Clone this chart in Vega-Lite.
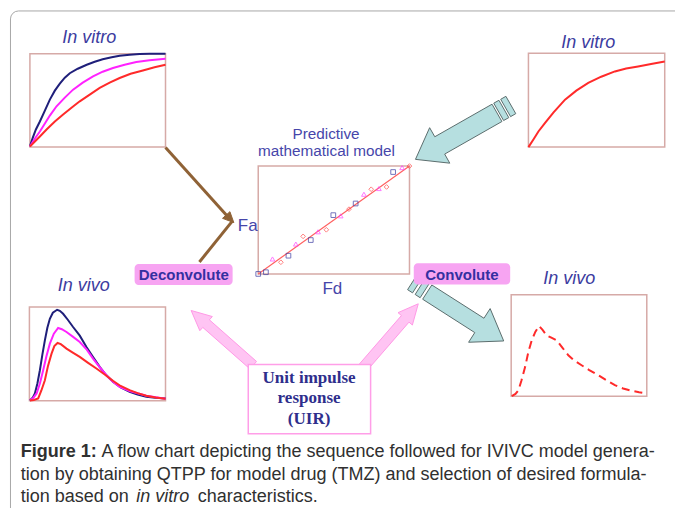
{
  "$schema": "https://vega.github.io/schema/vega-lite/v6.json",
  "width": 677,
  "height": 510,
  "autosize": {"type": "fit", "contains": "padding"},
  "padding": 0,
  "background": "white",
  "config": {"view": {"stroke": null}},
  "encoding": {
    "x": {"field": "x", "type": "quantitative", "scale": {"domain": [0, 677], "nice": false, "zero": false}, "axis": null},
    "y": {"field": "y", "type": "quantitative", "scale": {"domain": [0, 510], "nice": false, "zero": false, "reverse": true}, "axis": null}
  },
  "resolve": {"scale": {"color": "independent", "shape": "independent"}},
  "datasets": {
    "border": [
      {"i": 0, "x": 10.5, "y": 510}, {"i": 1, "x": 10.5, "y": 19}, {"i": 2, "x": 11.1, "y": 16},
      {"i": 3, "x": 12.8, "y": 13.4}, {"i": 4, "x": 15.4, "y": 11.6}, {"i": 5, "x": 18.5, "y": 11}, {"i": 6, "x": 677, "y": 11}
    ],
    "frames": [
      {"plot": "in vitro (reference)", "x": 30, "x2": 166, "y": 54, "y2": 147.5},
      {"plot": "in vitro (test)", "x": 530, "x2": 666.7, "y": 53.5, "y2": 147.7},
      {"plot": "correlation", "x": 259, "x2": 410.7, "y": 166.7, "y2": 275},
      {"plot": "in vivo (reference)", "x": 29.5, "x2": 166, "y": 308.3, "y2": 402.3},
      {"plot": "in vivo (predicted)", "x": 512.7, "x2": 648.7, "y": 296, "y2": 397.7}
    ],
    "curves": [
      {"panel": "in vitro", "series": "fast", "x": 30, "y": 147}, {"panel": "in vitro", "series": "fast", "x": 33, "y": 138},
      {"panel": "in vitro", "series": "fast", "x": 36, "y": 130}, {"panel": "in vitro", "series": "fast", "x": 40, "y": 122},
      {"panel": "in vitro", "series": "fast", "x": 45, "y": 111}, {"panel": "in vitro", "series": "fast", "x": 50, "y": 100},
      {"panel": "in vitro", "series": "fast", "x": 55, "y": 91}, {"panel": "in vitro", "series": "fast", "x": 60, "y": 84},
      {"panel": "in vitro", "series": "fast", "x": 65, "y": 78}, {"panel": "in vitro", "series": "fast", "x": 70, "y": 73.5},
      {"panel": "in vitro", "series": "fast", "x": 78, "y": 69}, {"panel": "in vitro", "series": "fast", "x": 87, "y": 65},
      {"panel": "in vitro", "series": "fast", "x": 95, "y": 62}, {"panel": "in vitro", "series": "fast", "x": 103, "y": 59.5},
      {"panel": "in vitro", "series": "fast", "x": 112, "y": 57.5}, {"panel": "in vitro", "series": "fast", "x": 120, "y": 56},
      {"panel": "in vitro", "series": "fast", "x": 130, "y": 55}, {"panel": "in vitro", "series": "fast", "x": 140, "y": 54.3},
      {"panel": "in vitro", "series": "fast", "x": 150, "y": 54}, {"panel": "in vitro", "series": "fast", "x": 166, "y": 54},
      {"panel": "in vitro", "series": "medium", "x": 30, "y": 147}, {"panel": "in vitro", "series": "medium", "x": 35, "y": 139},
      {"panel": "in vitro", "series": "medium", "x": 40, "y": 132}, {"panel": "in vitro", "series": "medium", "x": 43.3, "y": 126.7},
      {"panel": "in vitro", "series": "medium", "x": 50, "y": 116}, {"panel": "in vitro", "series": "medium", "x": 56.7, "y": 106.7},
      {"panel": "in vitro", "series": "medium", "x": 65, "y": 98}, {"panel": "in vitro", "series": "medium", "x": 73.3, "y": 90},
      {"panel": "in vitro", "series": "medium", "x": 83, "y": 83}, {"panel": "in vitro", "series": "medium", "x": 93.3, "y": 76.7},
      {"panel": "in vitro", "series": "medium", "x": 103, "y": 72}, {"panel": "in vitro", "series": "medium", "x": 113.3, "y": 68.3},
      {"panel": "in vitro", "series": "medium", "x": 125, "y": 65}, {"panel": "in vitro", "series": "medium", "x": 136.7, "y": 62.3},
      {"panel": "in vitro", "series": "medium", "x": 150, "y": 60.5}, {"panel": "in vitro", "series": "medium", "x": 166, "y": 59},
      {"panel": "in vitro", "series": "slow", "x": 30, "y": 147}, {"panel": "in vitro", "series": "slow", "x": 35, "y": 142},
      {"panel": "in vitro", "series": "slow", "x": 40, "y": 137}, {"panel": "in vitro", "series": "slow", "x": 46.7, "y": 130},
      {"panel": "in vitro", "series": "slow", "x": 55, "y": 122}, {"panel": "in vitro", "series": "slow", "x": 63.3, "y": 115},
      {"panel": "in vitro", "series": "slow", "x": 72, "y": 108}, {"panel": "in vitro", "series": "slow", "x": 80, "y": 101.7},
      {"panel": "in vitro", "series": "slow", "x": 90, "y": 95}, {"panel": "in vitro", "series": "slow", "x": 100, "y": 88.3},
      {"panel": "in vitro", "series": "slow", "x": 110, "y": 83}, {"panel": "in vitro", "series": "slow", "x": 120, "y": 78.3},
      {"panel": "in vitro", "series": "slow", "x": 131, "y": 74}, {"panel": "in vitro", "series": "slow", "x": 143.3, "y": 70.7},
      {"panel": "in vitro", "series": "slow", "x": 155, "y": 67.5}, {"panel": "in vitro", "series": "slow", "x": 166, "y": 65},
      {"panel": "in vivo", "series": "fast", "x": 30, "y": 402}, {"panel": "in vivo", "series": "fast", "x": 33, "y": 399},
      {"panel": "in vivo", "series": "fast", "x": 35, "y": 395}, {"panel": "in vivo", "series": "fast", "x": 37.5, "y": 385},
      {"panel": "in vivo", "series": "fast", "x": 40, "y": 371.7}, {"panel": "in vivo", "series": "fast", "x": 42.5, "y": 356},
      {"panel": "in vivo", "series": "fast", "x": 45, "y": 341.7}, {"panel": "in vivo", "series": "fast", "x": 47.5, "y": 329},
      {"panel": "in vivo", "series": "fast", "x": 50, "y": 320}, {"panel": "in vivo", "series": "fast", "x": 53, "y": 314},
      {"panel": "in vivo", "series": "fast", "x": 57.3, "y": 311}, {"panel": "in vivo", "series": "fast", "x": 60, "y": 312},
      {"panel": "in vivo", "series": "fast", "x": 63.3, "y": 315}, {"panel": "in vivo", "series": "fast", "x": 68, "y": 321},
      {"panel": "in vivo", "series": "fast", "x": 73.3, "y": 328.3}, {"panel": "in vivo", "series": "fast", "x": 80, "y": 337},
      {"panel": "in vivo", "series": "fast", "x": 86.7, "y": 348.3}, {"panel": "in vivo", "series": "fast", "x": 93, "y": 358},
      {"panel": "in vivo", "series": "fast", "x": 100, "y": 368.3}, {"panel": "in vivo", "series": "fast", "x": 106, "y": 376},
      {"panel": "in vivo", "series": "fast", "x": 113.3, "y": 383.3}, {"panel": "in vivo", "series": "fast", "x": 121, "y": 389},
      {"panel": "in vivo", "series": "fast", "x": 130, "y": 393.3}, {"panel": "in vivo", "series": "fast", "x": 138, "y": 396},
      {"panel": "in vivo", "series": "fast", "x": 146.7, "y": 398.3}, {"panel": "in vivo", "series": "fast", "x": 156, "y": 399.3},
      {"panel": "in vivo", "series": "fast", "x": 166, "y": 400},
      {"panel": "in vivo", "series": "medium", "x": 30, "y": 402}, {"panel": "in vivo", "series": "medium", "x": 33, "y": 400},
      {"panel": "in vivo", "series": "medium", "x": 36.7, "y": 395}, {"panel": "in vivo", "series": "medium", "x": 40, "y": 385},
      {"panel": "in vivo", "series": "medium", "x": 43.3, "y": 371.7}, {"panel": "in vivo", "series": "medium", "x": 46.5, "y": 358},
      {"panel": "in vivo", "series": "medium", "x": 50, "y": 345}, {"panel": "in vivo", "series": "medium", "x": 54, "y": 335},
      {"panel": "in vivo", "series": "medium", "x": 58.3, "y": 329.3}, {"panel": "in vivo", "series": "medium", "x": 62, "y": 330.5},
      {"panel": "in vivo", "series": "medium", "x": 66.7, "y": 333.3}, {"panel": "in vivo", "series": "medium", "x": 73, "y": 338},
      {"panel": "in vivo", "series": "medium", "x": 80, "y": 343.3}, {"panel": "in vivo", "series": "medium", "x": 87, "y": 351},
      {"panel": "in vivo", "series": "medium", "x": 93.3, "y": 360}, {"panel": "in vivo", "series": "medium", "x": 100, "y": 368.5},
      {"panel": "in vivo", "series": "medium", "x": 106.7, "y": 376.7}, {"panel": "in vivo", "series": "medium", "x": 113, "y": 383},
      {"panel": "in vivo", "series": "medium", "x": 120, "y": 388.3}, {"panel": "in vivo", "series": "medium", "x": 130, "y": 392.5},
      {"panel": "in vivo", "series": "medium", "x": 146.7, "y": 397.3}, {"panel": "in vivo", "series": "medium", "x": 166, "y": 400.3},
      {"panel": "in vivo", "series": "slow", "x": 30, "y": 402}, {"panel": "in vivo", "series": "slow", "x": 34, "y": 401.5},
      {"panel": "in vivo", "series": "slow", "x": 38.3, "y": 400}, {"panel": "in vivo", "series": "slow", "x": 41.5, "y": 392},
      {"panel": "in vivo", "series": "slow", "x": 45, "y": 381.7}, {"panel": "in vivo", "series": "slow", "x": 48, "y": 368},
      {"panel": "in vivo", "series": "slow", "x": 51.7, "y": 355}, {"panel": "in vivo", "series": "slow", "x": 54.5, "y": 347.5},
      {"panel": "in vivo", "series": "slow", "x": 57.7, "y": 344.3}, {"panel": "in vivo", "series": "slow", "x": 61, "y": 345.5},
      {"panel": "in vivo", "series": "slow", "x": 66.7, "y": 350}, {"panel": "in vivo", "series": "slow", "x": 73, "y": 354},
      {"panel": "in vivo", "series": "slow", "x": 80, "y": 358.3}, {"panel": "in vivo", "series": "slow", "x": 88, "y": 364},
      {"panel": "in vivo", "series": "slow", "x": 96.7, "y": 370}, {"panel": "in vivo", "series": "slow", "x": 105, "y": 376},
      {"panel": "in vivo", "series": "slow", "x": 113.3, "y": 382.3}, {"panel": "in vivo", "series": "slow", "x": 121, "y": 387.5},
      {"panel": "in vivo", "series": "slow", "x": 130, "y": 391.7}, {"panel": "in vivo", "series": "slow", "x": 138, "y": 394.7},
      {"panel": "in vivo", "series": "slow", "x": 146.7, "y": 397.3}, {"panel": "in vivo", "series": "slow", "x": 156, "y": 399},
      {"panel": "in vivo", "series": "slow", "x": 166, "y": 400.3},
      {"panel": "in vitro test", "series": "test", "x": 530, "y": 147.7}, {"panel": "in vitro test", "series": "test", "x": 535, "y": 140},
      {"panel": "in vitro test", "series": "test", "x": 540, "y": 132}, {"panel": "in vitro test", "series": "test", "x": 546.7, "y": 123.3},
      {"panel": "in vitro test", "series": "test", "x": 555, "y": 113}, {"panel": "in vitro test", "series": "test", "x": 566.7, "y": 100},
      {"panel": "in vitro test", "series": "test", "x": 578, "y": 91}, {"panel": "in vitro test", "series": "test", "x": 590, "y": 83.3},
      {"panel": "in vitro test", "series": "test", "x": 603, "y": 77}, {"panel": "in vitro test", "series": "test", "x": 616.7, "y": 71.7},
      {"panel": "in vitro test", "series": "test", "x": 628, "y": 68.8}, {"panel": "in vitro test", "series": "test", "x": 640, "y": 66.7},
      {"panel": "in vitro test", "series": "test", "x": 653, "y": 64.2}, {"panel": "in vitro test", "series": "test", "x": 666.7, "y": 61.7}
    ],
    "predicted": [
      {"x": 513.3, "y": 397.7}, {"x": 517, "y": 395.5}, {"x": 520, "y": 391.7}, {"x": 523, "y": 382}, {"x": 526.7, "y": 368.3},
      {"x": 530, "y": 353}, {"x": 533.3, "y": 341.7}, {"x": 537, "y": 333}, {"x": 540.7, "y": 327.3}, {"x": 544, "y": 331},
      {"x": 548.3, "y": 336.7}, {"x": 553, "y": 339}, {"x": 558.3, "y": 341.7}, {"x": 564, "y": 349}, {"x": 570, "y": 356.7},
      {"x": 576, "y": 362}, {"x": 583.3, "y": 366.7}, {"x": 591, "y": 371.5}, {"x": 600, "y": 376.7}, {"x": 608, "y": 381.7},
      {"x": 616.7, "y": 386.7}, {"x": 625, "y": 390}, {"x": 633.3, "y": 392.3}, {"x": 641, "y": 393.8}, {"x": 648.7, "y": 395}
    ],
    "fit": [{"x": 259, "y": 275}, {"x": 410.7, "y": 166.7}],
    "corr": [
      {"formulation": "A", "x": 259, "y": 275}, {"formulation": "A", "x": 266.7, "y": 273.3}, {"formulation": "A", "x": 289.3, "y": 256.7},
      {"formulation": "A", "x": 311.7, "y": 241}, {"formulation": "A", "x": 334.3, "y": 216}, {"formulation": "A", "x": 356.7, "y": 204.3},
      {"formulation": "A", "x": 394.3, "y": 172.7},
      {"formulation": "B", "x": 273.3, "y": 260}, {"formulation": "B", "x": 296.7, "y": 245}, {"formulation": "B", "x": 319, "y": 232.7},
      {"formulation": "B", "x": 341.7, "y": 216.7}, {"formulation": "B", "x": 365, "y": 195}, {"formulation": "B", "x": 380, "y": 189.3},
      {"formulation": "B", "x": 403.3, "y": 168.3},
      {"formulation": "C", "x": 281.7, "y": 263.3}, {"formulation": "C", "x": 304, "y": 237.3}, {"formulation": "C", "x": 327.3, "y": 230.7},
      {"formulation": "C", "x": 350, "y": 210}, {"formulation": "C", "x": 372.3, "y": 190}, {"formulation": "C", "x": 387.7, "y": 187.7},
      {"formulation": "C", "x": 410.7, "y": 166.7}
    ],
    "links": [
      {"link": "in vitro to Fa", "i": 0, "x": 166, "y": 148}, {"link": "in vitro to Fa", "i": 1, "x": 229, "y": 218},
      {"link": "in vivo to Fa", "i": 0, "x": 200, "y": 263}, {"link": "in vivo to Fa", "i": 1, "x": 233, "y": 222}
    ],
    "heads": [
      {"arrow": "to Fa", "i": 0, "x": 234.5, "y": 223.5}, {"arrow": "to Fa", "i": 1, "x": 223.2, "y": 219.2},
      {"arrow": "to Fa", "i": 2, "x": 230.6, "y": 212.5}, {"arrow": "to Fa", "i": 3, "x": 234.5, "y": 223.5}
    ],
    "teal": [
      {"arrow": "t1", "i": 0, "x": 416.7, "y": 160}, {"arrow": "t1", "i": 1, "x": 430.9, "y": 128.2},
      {"arrow": "t1", "i": 2, "x": 436.1, "y": 137.3}, {"arrow": "t1", "i": 3, "x": 493.5, "y": 104.6},
      {"arrow": "t1", "i": 4, "x": 503.4, "y": 122}, {"arrow": "t1", "i": 5, "x": 446, "y": 154.7},
      {"arrow": "t1", "i": 6, "x": 451.1, "y": 163.8}, {"arrow": "t1", "i": 7, "x": 416.7, "y": 160},
      {"arrow": "t1a", "i": 0, "x": 495.2, "y": 103.6}, {"arrow": "t1a", "i": 1, "x": 500.4, "y": 100.7},
      {"arrow": "t1a", "i": 2, "x": 510.3, "y": 118.1}, {"arrow": "t1a", "i": 3, "x": 505.1, "y": 121},
      {"arrow": "t1a", "i": 4, "x": 495.2, "y": 103.6},
      {"arrow": "t1b", "i": 0, "x": 502.2, "y": 99.7}, {"arrow": "t1b", "i": 1, "x": 507.4, "y": 96.7},
      {"arrow": "t1b", "i": 2, "x": 517.3, "y": 114.1}, {"arrow": "t1b", "i": 3, "x": 512.1, "y": 117.1},
      {"arrow": "t1b", "i": 4, "x": 502.2, "y": 99.7},
      {"arrow": "t2", "i": 0, "x": 505.2, "y": 342.3}, {"arrow": "t2", "i": 1, "x": 491.6, "y": 309.8},
      {"arrow": "t2", "i": 2, "x": 485.4, "y": 319.5}, {"arrow": "t2", "i": 3, "x": 433.1, "y": 286.1},
      {"arrow": "t2", "i": 4, "x": 423.9, "y": 300.4}, {"arrow": "t2", "i": 5, "x": 476.2, "y": 333.9},
      {"arrow": "t2", "i": 6, "x": 470, "y": 343.6}, {"arrow": "t2", "i": 7, "x": 505.2, "y": 342.3},
      {"arrow": "t2a", "i": 0, "x": 430.6, "y": 284.5}, {"arrow": "t2a", "i": 1, "x": 425.5, "y": 281.2},
      {"arrow": "t2a", "i": 2, "x": 416.4, "y": 295.6}, {"arrow": "t2a", "i": 3, "x": 421.4, "y": 298.9},
      {"arrow": "t2a", "i": 4, "x": 430.6, "y": 284.5},
      {"arrow": "t2b", "i": 0, "x": 423, "y": 279.6}, {"arrow": "t2b", "i": 1, "x": 418, "y": 276.4},
      {"arrow": "t2b", "i": 2, "x": 408.8, "y": 290.8}, {"arrow": "t2b", "i": 3, "x": 413.8, "y": 294},
      {"arrow": "t2b", "i": 4, "x": 423, "y": 279.6}
    ],
    "pink": [
      {"arrow": "p1", "i": 0, "x": 191.7, "y": 311.7}, {"arrow": "p1", "i": 1, "x": 213, "y": 317.8},
      {"arrow": "p1", "i": 2, "x": 210, "y": 321.1}, {"arrow": "p1", "i": 3, "x": 257.3, "y": 362.9},
      {"arrow": "p1", "i": 4, "x": 250.7, "y": 370.4}, {"arrow": "p1", "i": 5, "x": 203.4, "y": 328.7},
      {"arrow": "p1", "i": 6, "x": 200.4, "y": 332}, {"arrow": "p1", "i": 7, "x": 191.7, "y": 311.7},
      {"arrow": "p2", "i": 0, "x": 419.5, "y": 305}, {"arrow": "p2", "i": 1, "x": 413.6, "y": 326.3},
      {"arrow": "p2", "i": 2, "x": 410.2, "y": 323.4}, {"arrow": "p2", "i": 3, "x": 368.3, "y": 371.8},
      {"arrow": "p2", "i": 4, "x": 360.7, "y": 365.2}, {"arrow": "p2", "i": 5, "x": 402.6, "y": 316.8},
      {"arrow": "p2", "i": 6, "x": 399.2, "y": 313.9}, {"arrow": "p2", "i": 7, "x": 419.5, "y": 305}
    ],
    "steps": [
      {"step": "Deconvolute", "x": 135, "x2": 233.3, "y": 265, "y2": 286, "tx": 184.3, "ty": 280.7},
      {"step": "Convolute", "x": 415, "x2": 511.7, "y": 264.3, "y2": 285.7, "tx": 463.3, "ty": 280.7}
    ],
    "uirbox": [{"x": 249, "x2": 371.7, "y": 366, "y2": 435.5}],
    "uirtext": [
      {"text": "Unit impulse", "x": 310, "y": 384.5},
      {"text": "response", "x": 310, "y": 405},
      {"text": "(UIR)", "x": 310, "y": 425.5}
    ],
    "titles": [
      {"text": "In vitro", "x": 89.5, "y": 42.7},
      {"text": "In vitro", "x": 590, "y": 48.3},
      {"text": "In vivo", "x": 84, "y": 291.7},
      {"text": "In vivo", "x": 571, "y": 285}
    ],
    "model": [
      {"text": "Predictive", "x": 327, "y": 139.3, "size": "title"},
      {"text": "mathematical  model", "x": 327.5, "y": 157, "size": "title"},
      {"text": "Fa", "x": 248.5, "y": 232, "size": "axis"},
      {"text": "Fd", "x": 333.3, "y": 295, "size": "axis"}
    ],
    "caption": [
      {"part": "bold", "text": "Figure 1:", "x": 20.7, "y": 458.3},
      {"part": "regular", "text": "A flow chart depicting the sequence followed for IVIVC model genera-", "x": 101.7, "y": 458.3},
      {"part": "regular", "text": "tion by obtaining QTPP for model drug (TMZ) and selection of desired formula-", "x": 20.7, "y": 481.5},
      {"part": "regular", "text": "tion based on", "x": 20.7, "y": 504.3},
      {"part": "italic", "text": "in vitro", "x": 136.7, "y": 504.3},
      {"part": "regular", "text": "characteristics.", "x": 198.3, "y": 504.3}
    ]
  },
  "layer": [
    {
      "data": {"name": "border"},
      "mark": {"type": "line", "stroke": "#a8a8a8", "strokeWidth": 1},
      "encoding": {"order": {"field": "i", "type": "quantitative"}}
    },
    {
      "data": {"name": "frames"},
      "mark": {"type": "rect", "fill": "white", "stroke": "#d6aaa7", "strokeWidth": 1.5},
      "encoding": {"x2": {"field": "x2"}, "y2": {"field": "y2"}}
    },
    {
      "data": {"name": "curves"},
      "mark": {"type": "line", "strokeWidth": 2},
      "encoding": {
        "detail": {"field": "panel"},
        "color": {"field": "series", "type": "nominal", "legend": null,
          "scale": {"domain": ["fast", "medium", "slow", "test"], "range": ["#1f1f7a", "#ff22ff", "#ff2a2a", "#ff2a2a"]}}
      }
    },
    {
      "data": {"name": "predicted"},
      "mark": {"type": "line", "stroke": "#ff2a2a", "strokeWidth": 2, "strokeDash": [8, 5]},
      "encoding": {}
    },
    {
      "data": {"name": "fit"},
      "mark": {"type": "line", "stroke": "#ff6060", "strokeWidth": 1.2},
      "encoding": {}
    },
    {
      "data": {"name": "corr"},
      "mark": {"type": "point", "filled": false, "strokeWidth": 1, "size": 22},
      "encoding": {
        "shape": {"field": "formulation", "type": "nominal", "legend": null,
          "scale": {"domain": ["A", "B", "C"], "range": ["square", "triangle-up", "diamond"]}},
        "color": {"field": "formulation", "type": "nominal", "legend": null,
          "scale": {"domain": ["A", "B", "C"], "range": ["#3a3aa0", "#ff40ff", "#ff4a4a"]}}
      }
    },
    {
      "data": {"name": "links"},
      "mark": {"type": "line", "stroke": "#8f6236", "strokeWidth": 3},
      "encoding": {"detail": {"field": "link"}, "order": {"field": "i", "type": "quantitative"}}
    },
    {
      "data": {"name": "heads"},
      "mark": {"type": "line", "stroke": "#8f6236", "fill": "#8f6236", "strokeWidth": 1},
      "encoding": {"detail": {"field": "arrow"}, "order": {"field": "i", "type": "quantitative"}}
    },
    {
      "data": {"name": "teal"},
      "mark": {"type": "line", "stroke": "#5c6e6e", "fill": "#b6dfe0", "strokeWidth": 1},
      "encoding": {"detail": {"field": "arrow"}, "order": {"field": "i", "type": "quantitative"}}
    },
    {
      "data": {"name": "pink"},
      "mark": {"type": "line", "stroke": "#ff99e6", "fill": "#ffc4f3", "strokeWidth": 1},
      "encoding": {"detail": {"field": "arrow"}, "order": {"field": "i", "type": "quantitative"}}
    },
    {
      "data": {"name": "uirbox"},
      "mark": {"type": "rect", "fill": "white", "stroke": "#ff9ee8", "strokeWidth": 1.5},
      "encoding": {"x2": {"field": "x2"}, "y2": {"field": "y2"}}
    },
    {
      "data": {"name": "steps"},
      "mark": {"type": "rect", "fill": "#f7a4f2", "cornerRadius": 4},
      "encoding": {"x2": {"field": "x2"}, "y2": {"field": "y2"}}
    },
    {
      "data": {"name": "steps"},
      "mark": {"type": "text", "font": "Liberation Sans", "fontWeight": "bold", "fontSize": 15, "color": "#3430a0", "align": "center", "baseline": "alphabetic"},
      "encoding": {"x": {"field": "tx", "type": "quantitative"}, "y": {"field": "ty", "type": "quantitative"}, "text": {"field": "step"}}
    },
    {
      "data": {"name": "uirtext"},
      "mark": {"type": "text", "font": "Liberation Serif", "fontWeight": "bold", "fontSize": 17, "color": "#2e2e8c", "align": "center", "baseline": "alphabetic"},
      "encoding": {"text": {"field": "text"}}
    },
    {
      "data": {"name": "titles"},
      "mark": {"type": "text", "font": "Liberation Sans", "fontStyle": "italic", "fontSize": 18, "color": "#3c3ca0", "align": "center", "baseline": "alphabetic"},
      "encoding": {"text": {"field": "text"}}
    },
    {
      "data": {"name": "model"},
      "transform": [{"filter": "datum.size == 'title'"}],
      "mark": {"type": "text", "font": "Liberation Sans", "fontSize": 15.3, "color": "#4646aa", "align": "center", "baseline": "alphabetic"},
      "encoding": {"text": {"field": "text"}}
    },
    {
      "data": {"name": "model"},
      "transform": [{"filter": "datum.size == 'axis'"}],
      "mark": {"type": "text", "font": "Liberation Sans", "fontSize": 17, "color": "#4646aa", "align": "center", "baseline": "alphabetic"},
      "encoding": {"text": {"field": "text"}}
    },
    {
      "data": {"name": "caption"},
      "transform": [{"filter": "datum.part == 'regular'"}],
      "mark": {"type": "text", "font": "Liberation Sans", "fontSize": 18, "color": "#303030", "align": "left", "baseline": "alphabetic"},
      "encoding": {"text": {"field": "text"}}
    },
    {
      "data": {"name": "caption"},
      "transform": [{"filter": "datum.part == 'bold'"}],
      "mark": {"type": "text", "font": "Liberation Sans", "fontWeight": "bold", "fontSize": 18, "color": "#303030", "align": "left", "baseline": "alphabetic"},
      "encoding": {"text": {"field": "text"}}
    },
    {
      "data": {"name": "caption"},
      "transform": [{"filter": "datum.part == 'italic'"}],
      "mark": {"type": "text", "font": "Liberation Sans", "fontStyle": "italic", "fontSize": 18, "color": "#303030", "align": "left", "baseline": "alphabetic"},
      "encoding": {"text": {"field": "text"}}
    }
  ]
}
